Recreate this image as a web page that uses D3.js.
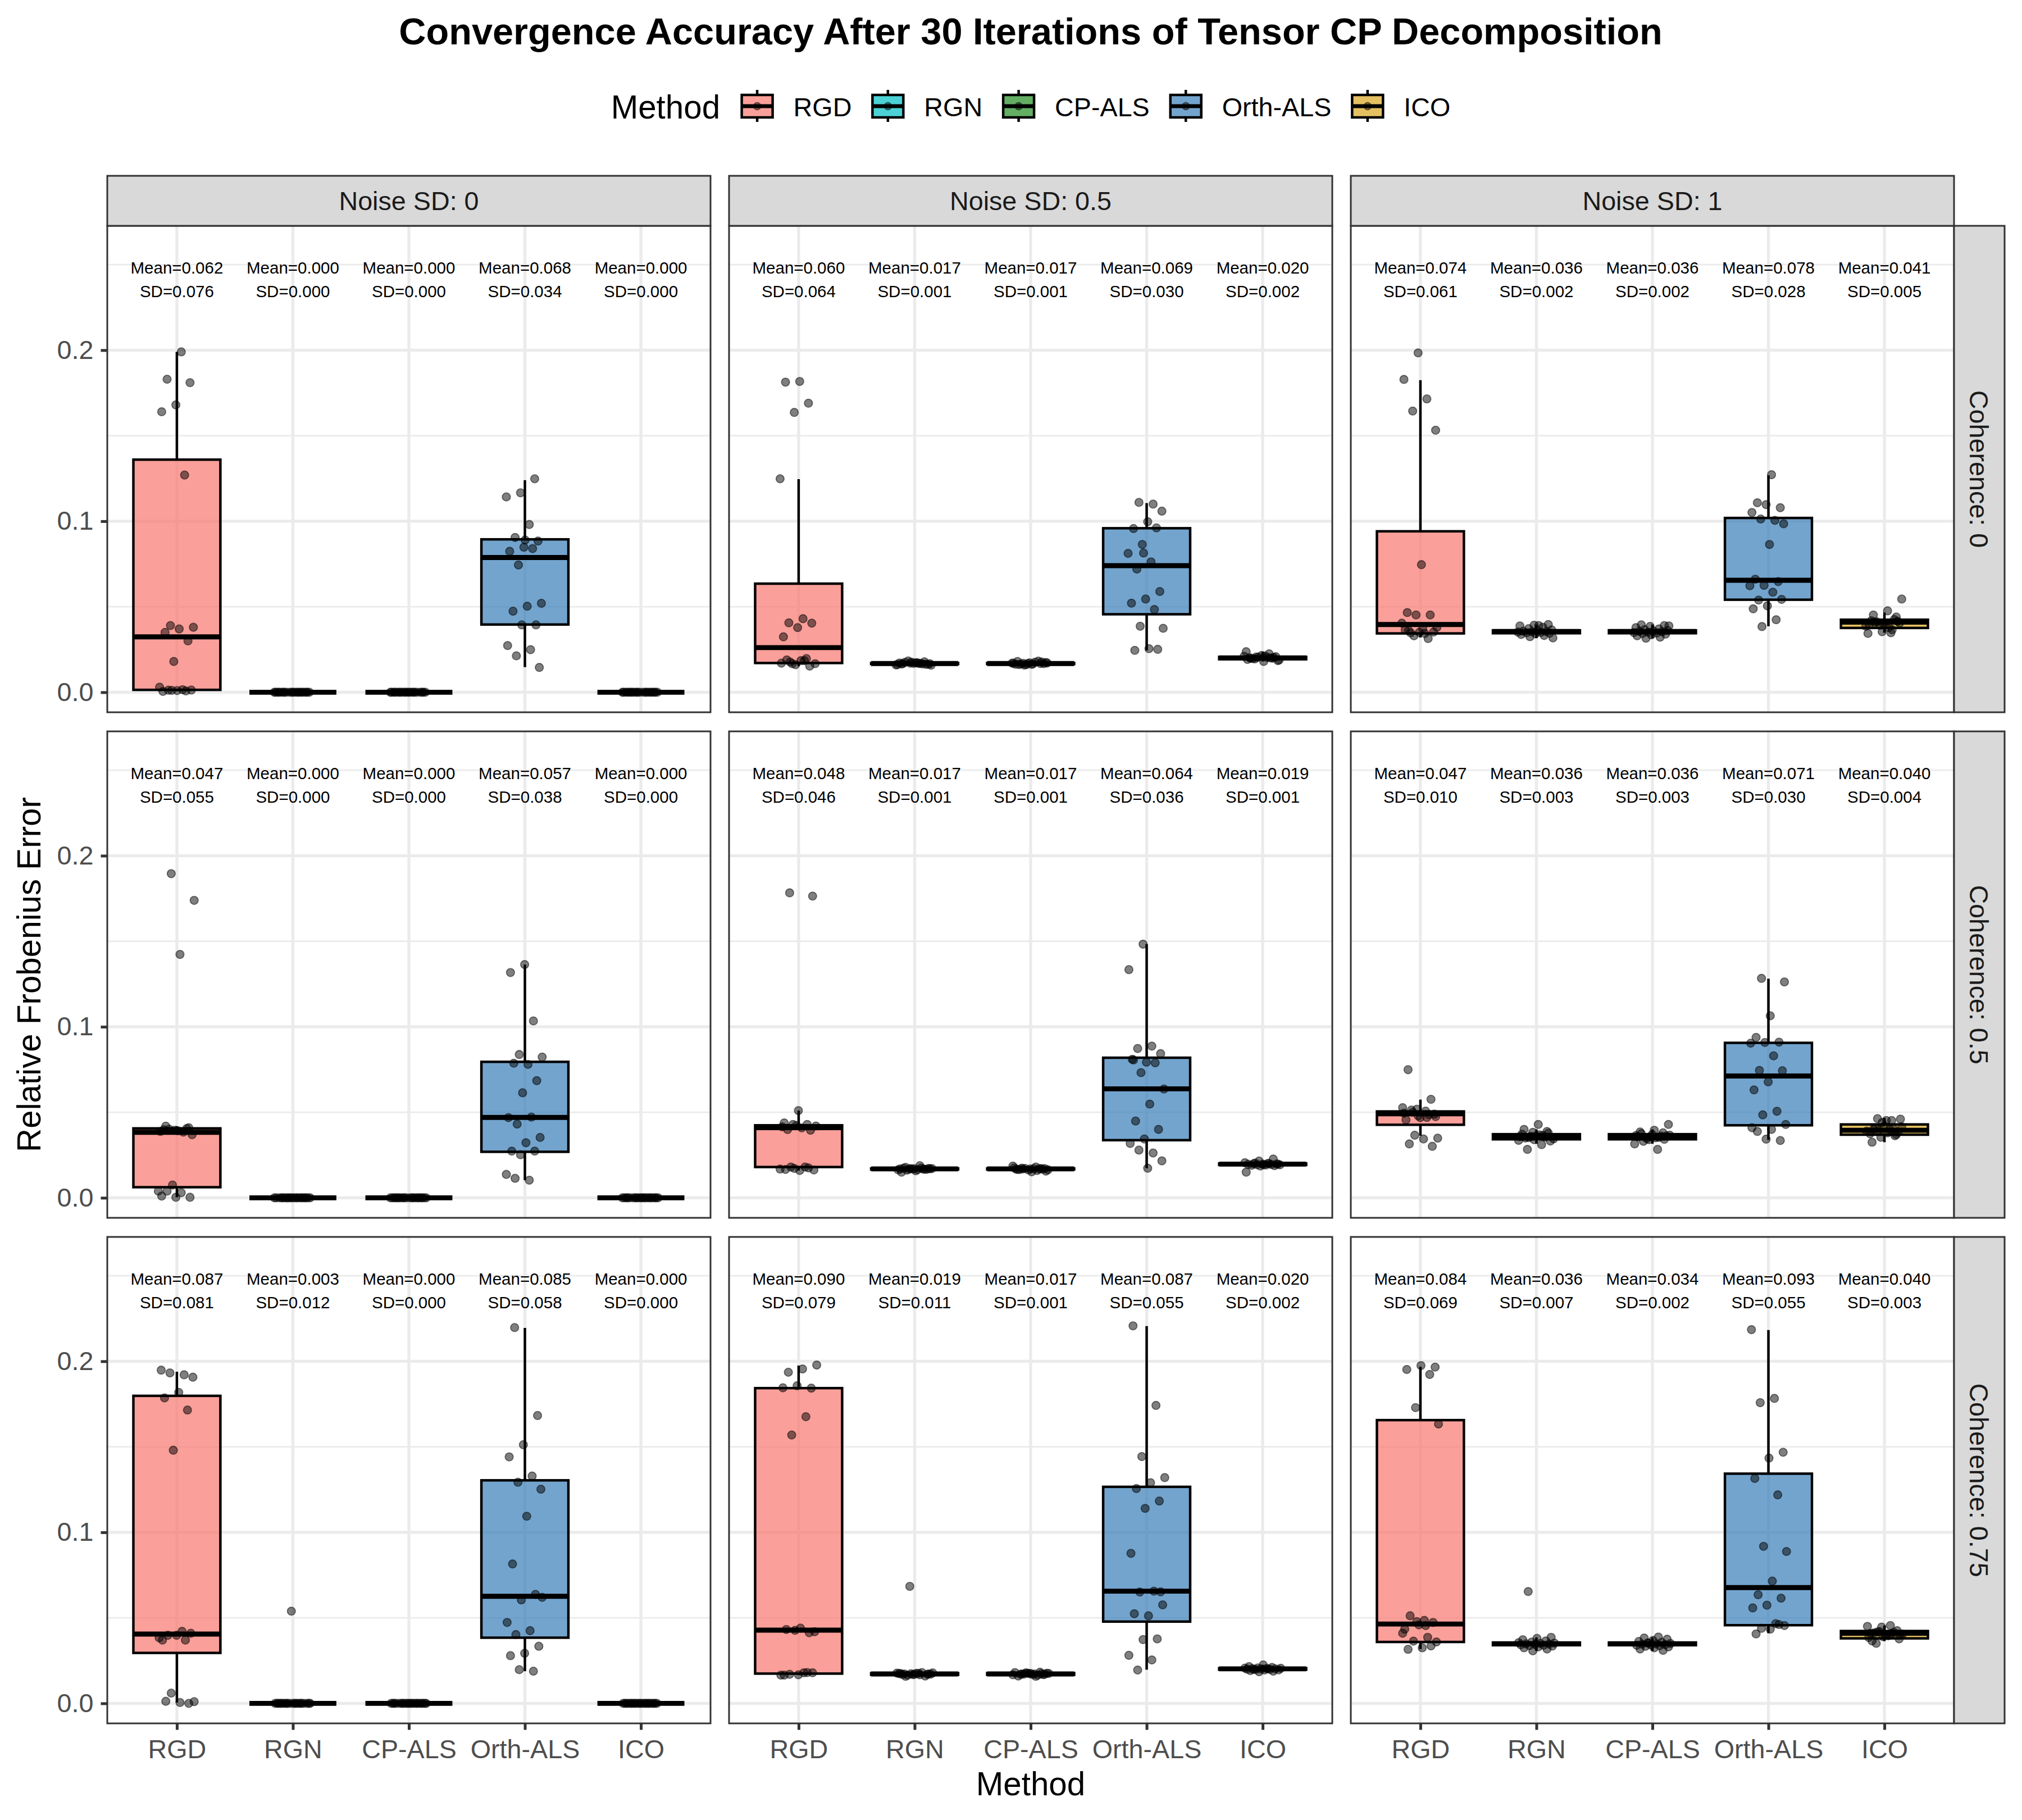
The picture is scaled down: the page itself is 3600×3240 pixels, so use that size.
<!DOCTYPE html>
<html lang="en">
<head>
<meta charset="UTF-8">
<title>Convergence Accuracy After 30 Iterations of Tensor CP Decomposition</title>
<script src="https://cdn.jsdelivr.net/npm/d3@7"></script>
<style>
  body { margin: 0; background: #ffffff; }
  svg { display: block; font-family: 'Liberation Sans', Arial, Helvetica, sans-serif; }
</style>
</head>
<body>
<script>
// ========================================================================
// Data
// ========================================================================
const methods = ["RGD", "RGN", "CP-ALS", "Orth-ALS", "ICO"];
const noiseLabels = ["Noise SD: 0", "Noise SD: 0.5", "Noise SD: 1"];
const coherenceLabels = ["Coherence: 0", "Coherence: 0.5", "Coherence: 0.75"];
const methodColors = ["#F8766D", "#00BFC4", "#228B22", "#377EB8", "#DAA520"];
const yTicks = [0, 0.1, 0.2];
const yMinorTicks = [0.05, 0.15, 0.25];

// mean / sd labels, one row per panel: [coherence][noise] -> 5 methods
const means = [
    [[0.062, 0.000, 0.000, 0.068, 0.000], [0.060, 0.017, 0.017, 0.069, 0.020], [0.074, 0.036, 0.036, 0.078, 0.041]],
    [[0.047, 0.000, 0.000, 0.057, 0.000], [0.048, 0.017, 0.017, 0.064, 0.019], [0.047, 0.036, 0.036, 0.071, 0.040]],
    [[0.087, 0.003, 0.000, 0.085, 0.000], [0.090, 0.019, 0.017, 0.087, 0.020], [0.084, 0.036, 0.034, 0.093, 0.040]]
];
const sds = [
    [[0.076, 0.000, 0.000, 0.034, 0.000], [0.064, 0.001, 0.001, 0.030, 0.002], [0.061, 0.002, 0.002, 0.028, 0.005]],
    [[0.055, 0.000, 0.000, 0.038, 0.000], [0.046, 0.001, 0.001, 0.036, 0.001], [0.010, 0.003, 0.003, 0.030, 0.004]],
    [[0.081, 0.012, 0.000, 0.058, 0.000], [0.079, 0.011, 0.001, 0.055, 0.002], [0.069, 0.007, 0.002, 0.055, 0.003]]
];

// box stats per method: [lower whisker, q1, median, q3, upper whisker]
const boxC0N0 = [[0.0005, 0.0014, 0.0324, 0.136, 0.199], [0, 0, 0, 0, 0], [0, 0, 0, 0, 0], [0.0147, 0.0396, 0.0788, 0.0894, 0.124], [0, 0, 0, 0, 0]];
const boxC0N05 = [[0.0153, 0.0171, 0.0261, 0.0635, 0.1246], [0.0158, 0.0165, 0.0168, 0.0171, 0.018], [0.0158, 0.0165, 0.0168, 0.0171, 0.018], [0.0245, 0.0456, 0.074, 0.0959, 0.1106], [0.018, 0.0193, 0.0201, 0.0207, 0.0237]];
const boxC0N1 = [[0.032, 0.0344, 0.0396, 0.0941, 0.1825], [0.0316, 0.0345, 0.0355, 0.0362, 0.0396], [0.0316, 0.0345, 0.0355, 0.0362, 0.0396], [0.0386, 0.0541, 0.0655, 0.1019, 0.1268], [0.0348, 0.0376, 0.041, 0.0424, 0.0466]];
const boxC05N0 = [[0.0003, 0.0062, 0.0383, 0.0406, 0.0419], [0, 0, 0, 0, 0], [0, 0, 0, 0, 0], [0.0103, 0.0269, 0.047, 0.0795, 0.1363], [0, 0, 0, 0, 0]];
const boxC05N05 = [[0.016, 0.018, 0.041, 0.0424, 0.051], [0.0155, 0.0166, 0.0169, 0.0172, 0.0185], [0.0155, 0.0166, 0.0169, 0.0172, 0.0185], [0.0173, 0.0337, 0.0637, 0.0819, 0.1483], [0.0175, 0.0192, 0.0197, 0.0201, 0.0215]];
const boxC05N1 = [[0.0363, 0.0427, 0.0491, 0.0505, 0.0574], [0.0316, 0.0342, 0.0357, 0.0372, 0.040], [0.0316, 0.0342, 0.0357, 0.0372, 0.040], [0.0339, 0.0424, 0.0712, 0.0906, 0.1281], [0.0325, 0.0369, 0.0395, 0.0429, 0.0467]];
const boxC075N0 = [[0.0005, 0.0295, 0.0405, 0.1798, 0.1939], [0, 0, 0, 0, 0], [0, 0, 0, 0, 0], [0.0188, 0.0384, 0.0626, 0.1304, 0.2195], [0, 0, 0, 0, 0]];
const boxC075N05 = [[0.0165, 0.0174, 0.0428, 0.1843, 0.1975], [0.0155, 0.0167, 0.0172, 0.0177, 0.0188], [0.0155, 0.0167, 0.0172, 0.0177, 0.0188], [0.0197, 0.0478, 0.0656, 0.1266, 0.2206], [0.0185, 0.0197, 0.0202, 0.0206, 0.0225]];
const boxC075N1 = [[0.0318, 0.0359, 0.0464, 0.1656, 0.1968], [0.0307, 0.034, 0.0348, 0.0356, 0.0386], [0.0307, 0.034, 0.0348, 0.0356, 0.0386], [0.041, 0.0457, 0.0677, 0.1343, 0.2183], [0.0364, 0.038, 0.041, 0.0423, 0.0455]];

// individual runs (20 per method)
const zeroRuns = [0, 0, 0, 0, 0, 0, 0, 0, 0, 0, 0, 0, 0, 0, 0, 0, 0, 0, 0, 0];

const ptsC0N0 = [
    [0.199, 0.183, 0.181, 0.168, 0.164, 0.127, 0.039, 0.038, 0.037, 0.035, 0.030, 0.018, 0.003, 0.0015, 0.0012, 0.0013, 0.001, 0.0005, 0.0008, 0.0011],
    zeroRuns, zeroRuns,
    [0.1248, 0.1166, 0.1142, 0.0981, 0.0905, 0.0884, 0.0848, 0.0824, 0.084, 0.0744, 0.052, 0.0503, 0.0474, 0.0394, 0.0394, 0.0273, 0.0249, 0.0213, 0.0145, 0.089],
    zeroRuns
];
const ptsC0N05 = [
    [0.1817, 0.1813, 0.169, 0.1636, 0.1248, 0.043, 0.0406, 0.0404, 0.0378, 0.0324, 0.0197, 0.0167, 0.0167, 0.0185, 0.0189, 0.0153, 0.0161, 0.017, 0.0185, 0.0177],
    [0.0167, 0.0172, 0.0165, 0.0178, 0.0170, 0.0160, 0.0168, 0.0175, 0.0163, 0.0169, 0.0171, 0.0166, 0.0183, 0.0158, 0.0173, 0.0167, 0.0164, 0.0176, 0.0162, 0.0169],
    [0.0169, 0.0174, 0.0163, 0.0180, 0.0168, 0.0161, 0.0170, 0.0176, 0.0165, 0.0167, 0.0172, 0.0164, 0.0182, 0.0159, 0.0171, 0.0166, 0.0162, 0.0177, 0.0168, 0.0170],
    [0.110, 0.111, 0.1059, 0.0997, 0.0957, 0.0961, 0.0864, 0.0812, 0.0762, 0.072, 0.0589, 0.0545, 0.0521, 0.0484, 0.0386, 0.0374, 0.0255, 0.0245, 0.0251, 0.0814],
    [0.0237, 0.0225, 0.0195, 0.0185, 0.018, 0.0202, 0.0199, 0.0205, 0.021, 0.0203, 0.0197, 0.0208, 0.0215, 0.0192, 0.0201, 0.0206, 0.0189, 0.0212, 0.0198, 0.0204]
];
const ptsC0N1 = [
    [0.1984, 0.1829, 0.1715, 0.1644, 0.1532, 0.0746, 0.0466, 0.0452, 0.0452, 0.0404, 0.0344, 0.0348, 0.0352, 0.035, 0.0364, 0.0314, 0.033, 0.038, 0.0372, 0.036],
    [0.0396, 0.0392, 0.0388, 0.0380, 0.0372, 0.0365, 0.0360, 0.0357, 0.0355, 0.0354, 0.0352, 0.0350, 0.0348, 0.0345, 0.0342, 0.0338, 0.0332, 0.0325, 0.0318, 0.0390],
    [0.0394, 0.0390, 0.0385, 0.0378, 0.0370, 0.0366, 0.0361, 0.0358, 0.0356, 0.0354, 0.0351, 0.0349, 0.0347, 0.0344, 0.0340, 0.0336, 0.0330, 0.0322, 0.0316, 0.0388],
    [0.1272, 0.1108, 0.1079, 0.1097, 0.1051, 0.1005, 0.1013, 0.0985, 0.0864, 0.0661, 0.0647, 0.0625, 0.0623, 0.0585, 0.0539, 0.0543, 0.0505, 0.0488, 0.0424, 0.0384],
    [0.0545, 0.0476, 0.0452, 0.044, 0.0354, 0.0344, 0.0348, 0.0412, 0.0405, 0.0398, 0.0418, 0.0425, 0.0392, 0.0386, 0.0378, 0.0409, 0.0415, 0.0402, 0.0395, 0.0366]
];
const ptsC05N0 = [
    [0.1895, 0.1739, 0.1423, 0.0419, 0.041, 0.0395, 0.0388, 0.0384, 0.0401, 0.0369, 0.0392, 0.0398, 0.0405, 0.0075, 0.0039, 0.003, 0.0039, 0.0003, 0.0003, 0.001],
    zeroRuns, zeroRuns,
    [0.1364, 0.1317, 0.1034, 0.0838, 0.0823, 0.078, 0.0787, 0.0685, 0.0614, 0.0469, 0.0472, 0.0431, 0.0353, 0.0322, 0.0273, 0.0273, 0.0252, 0.0137, 0.0103, 0.0114],
    zeroRuns
];
const ptsC05N05 = [
    [0.1783, 0.1764, 0.051, 0.0438, 0.0429, 0.0429, 0.042, 0.0409, 0.0399, 0.0395, 0.0423, 0.0415, 0.018, 0.018, 0.0163, 0.016, 0.0166, 0.0175, 0.0172, 0.0168],
    [0.0188, 0.0178, 0.0172, 0.0170, 0.0169, 0.0168, 0.0167, 0.0171, 0.0165, 0.0173, 0.0166, 0.0169, 0.0164, 0.0174, 0.0162, 0.0170, 0.0158, 0.0150, 0.0167, 0.0171],
    [0.0186, 0.0180, 0.0173, 0.0171, 0.0169, 0.0167, 0.0168, 0.0172, 0.0164, 0.0170, 0.0165, 0.0168, 0.0163, 0.0175, 0.0160, 0.0169, 0.0156, 0.0152, 0.0166, 0.0172],
    [0.1483, 0.1334, 0.0887, 0.0873, 0.0843, 0.0793, 0.081, 0.0789, 0.0732, 0.0636, 0.0548, 0.0449, 0.04, 0.0344, 0.0318, 0.0262, 0.0279, 0.0216, 0.0173, 0.0806],
    [0.0227, 0.0215, 0.0205, 0.0201, 0.0199, 0.0198, 0.0197, 0.0196, 0.0195, 0.0194, 0.0193, 0.0192, 0.0190, 0.0188, 0.0186, 0.0150, 0.0200, 0.0203, 0.0197, 0.0194]
];
const ptsC05N1 = [
    [0.0749, 0.0576, 0.0518, 0.0527, 0.0507, 0.0513, 0.0489, 0.0469, 0.0456, 0.0486, 0.0366, 0.0349, 0.0344, 0.0315, 0.0301, 0.048, 0.0495, 0.047, 0.050, 0.0475],
    [0.0429, 0.040, 0.0388, 0.0383, 0.0336, 0.0311, 0.0283, 0.0332, 0.0363, 0.0372, 0.0355, 0.0360, 0.0345, 0.0368, 0.0350, 0.0378, 0.0340, 0.0358, 0.0365, 0.0352],
    [0.0429, 0.0395, 0.0385, 0.0380, 0.0340, 0.0315, 0.0283, 0.0330, 0.0362, 0.0370, 0.0356, 0.0361, 0.0346, 0.0366, 0.0351, 0.0375, 0.0342, 0.0357, 0.0364, 0.0353],
    [0.1283, 0.1262, 0.1064, 0.0938, 0.091, 0.0908, 0.0904, 0.083, 0.0745, 0.0743, 0.0678, 0.0631, 0.0506, 0.0485, 0.0429, 0.04, 0.0388, 0.0335, 0.0343, 0.041],
    [0.0452, 0.0463, 0.0460, 0.0452, 0.0325, 0.0363, 0.0354, 0.0390, 0.0400, 0.0410, 0.0385, 0.0420, 0.0375, 0.0405, 0.0395, 0.0415, 0.0380, 0.0400, 0.0370, 0.0440]
];
const ptsC075N0 = [
    [0.1948, 0.1921, 0.1932, 0.1907, 0.1818, 0.1786, 0.1715, 0.148, 0.0384, 0.0421, 0.0398, 0.041, 0.0398, 0.037, 0.037, 0.006, 0.001, 0.0005, 0.0012, 0.0],
    [0.0539, 0, 0, 0, 0, 0, 0, 0, 0, 0, 0, 0, 0, 0, 0, 0, 0, 0, 0, 0],
    zeroRuns,
    [0.2197, 0.1683, 0.1512, 0.1441, 0.1329, 0.1293, 0.1252, 0.1094, 0.0815, 0.0637, 0.0605, 0.0473, 0.0425, 0.0402, 0.0334, 0.0293, 0.0279, 0.0188, 0.0197, 0.062],
    zeroRuns
];
const ptsC075N05 = [
    [0.1978, 0.1955, 0.1936, 0.1843, 0.1857, 0.1845, 0.1676, 0.1569, 0.0419, 0.044, 0.0432, 0.0413, 0.0427, 0.0165, 0.0179, 0.017, 0.0179, 0.0167, 0.0165, 0.018],
    [0.0684, 0.0178, 0.0175, 0.0172, 0.0170, 0.0168, 0.0174, 0.0180, 0.0165, 0.0171, 0.0176, 0.0169, 0.0160, 0.0173, 0.0177, 0.0167, 0.0158, 0.0172, 0.0170, 0.0175],
    [0.0182, 0.0178, 0.0175, 0.0172, 0.0170, 0.0168, 0.0174, 0.0180, 0.0165, 0.0171, 0.0176, 0.0169, 0.0160, 0.0173, 0.0177, 0.0167, 0.0158, 0.0172, 0.0170, 0.0175],
    [0.2207, 0.1742, 0.1443, 0.132, 0.129, 0.1256, 0.1183, 0.114, 0.0877, 0.0656, 0.0651, 0.0576, 0.0512, 0.0524, 0.0377, 0.0373, 0.0281, 0.0254, 0.0195, 0.0652],
    [0.0225, 0.0215, 0.0210, 0.0207, 0.0205, 0.0204, 0.0203, 0.0202, 0.0201, 0.0200, 0.0199, 0.0198, 0.0196, 0.0195, 0.0192, 0.0188, 0.0185, 0.0206, 0.0202, 0.0199]
];
const ptsC075N1 = [
    [0.1966, 0.1975, 0.1952, 0.1923, 0.1729, 0.1633, 0.0485, 0.0512, 0.0473, 0.0459, 0.0434, 0.0386, 0.0364, 0.0359, 0.0325, 0.0316, 0.0336, 0.0478, 0.041, 0.0455],
    [0.0654, 0.0386, 0.0380, 0.0372, 0.0365, 0.0358, 0.0352, 0.0350, 0.0348, 0.0347, 0.0345, 0.0343, 0.0340, 0.0338, 0.0335, 0.0330, 0.0325, 0.0318, 0.0307, 0.0355],
    [0.0388, 0.0382, 0.0375, 0.0368, 0.0362, 0.0357, 0.0353, 0.0350, 0.0348, 0.0346, 0.0344, 0.0342, 0.0340, 0.0337, 0.0334, 0.0330, 0.0325, 0.0318, 0.0310, 0.0352],
    [0.2185, 0.1783, 0.1758, 0.1468, 0.1434, 0.1315, 0.1219, 0.0918, 0.0888, 0.0715, 0.0635, 0.0615, 0.0574, 0.0558, 0.0466, 0.0439, 0.0455, 0.0434, 0.0406, 0.0461],
    [0.0446, 0.0450, 0.0455, 0.0351, 0.0377, 0.0400, 0.0410, 0.0415, 0.0420, 0.0405, 0.0395, 0.0412, 0.0425, 0.0390, 0.0385, 0.0408, 0.0418, 0.0402, 0.0398, 0.0365]
];

const boxGrid = [[boxC0N0, boxC0N05, boxC0N1], [boxC05N0, boxC05N05, boxC05N1], [boxC075N0, boxC075N05, boxC075N1]];
const pointGrid = [[ptsC0N0, ptsC0N05, ptsC0N1], [ptsC05N0, ptsC05N05, ptsC05N1], [ptsC075N0, ptsC075N05, ptsC075N1]];

// ========================================================================
// Layout
// ========================================================================
const WIDTH = 3600, HEIGHT = 3240;
const PANEL_LEFT = [191, 1298, 2405];
const PANEL_TOP = [402, 1302, 2202];
const PANEL_W = 1074, PANEL_H = 866;
const STRIP_H = 89, STRIP_W = 90;
const Y_DOMAIN = [-0.0117, 0.2727];
const LABEL_Y = 0.2412;
const TICK_LEN = 11.5;
const JITTER = 0.16;
const PLOT_CENTER = (PANEL_LEFT[0] + PANEL_LEFT[2] + PANEL_W) / 2;

const FONT_AXIS = 46.7, FONT_TITLE_AXIS = 58.3, FONT_ANNOT = 29.5;
const GRID = "#EBEBEB", DARK = "#333333";

const x = d3.scalePoint().domain(methods).range([0, PANEL_W]).padding(0.6);
const y = d3.scaleLinear().domain(Y_DOMAIN).range([PANEL_H, 0]);
const boxW = 0.75 * x.step();

// spread points sideways like geom_jitter, without randomness
const jitterOffset = (i, seed) => ((((i + 1) * 0.6180339887 + seed * 0.3819660113) % 1) - 0.5) * 2 * JITTER * x.step();

const svg = d3.select("body").append("svg")
    .attr("width", WIDTH).attr("height", HEIGHT)
    .attr("viewBox", `0 0 ${WIDTH} ${HEIGHT}`);
svg.append("rect").attr("width", WIDTH).attr("height", HEIGHT).attr("fill", "#ffffff");

// ========================================================================
// Title
// ========================================================================
svg.append("text")
    .attr("x", PLOT_CENTER).attr("y", 79)
    .attr("text-anchor", "middle")
    .attr("font-size", 66.7).attr("font-weight", "bold")
    .attr("fill", "#000")
    .text("Convergence Accuracy After 30 Iterations of Tensor CP Decomposition");

// ========================================================================
// Legend
// ========================================================================
const drawLegend = () => {
    const legend = svg.append("g");
    const cy = 190;
    const title = legend.append("text")
        .attr("x", 0).attr("y", cy + 0.716 * FONT_TITLE_AXIS / 2)
        .attr("font-size", FONT_TITLE_AXIS).attr("fill", "#000")
        .text("Method");
    let cursor = title.node().getComputedTextLength() + 30;
    methods.forEach((m, i) => {
        const kx = cursor + 36;
        const key = legend.append("g");
        key.append("line").attr("x1", kx).attr("x2", kx).attr("y1", 160).attr("y2", 217)
            .attr("stroke", "#000").attr("stroke-width", 4.45);
        key.append("rect").attr("x", kx - 27.5).attr("y", 169).attr("width", 55).attr("height", 40)
            .attr("fill", "#fff");
        key.append("rect").attr("x", kx - 27.5).attr("y", 169).attr("width", 55).attr("height", 40)
            .attr("fill", methodColors[i]).attr("fill-opacity", 0.7)
            .attr("stroke", "#000").attr("stroke-width", 4.45);
        key.append("line").attr("x1", kx - 27.5).attr("x2", kx + 27.5).attr("y1", cy - 1).attr("y2", cy - 1)
            .attr("stroke", "#000").attr("stroke-width", 7);
        key.append("circle").attr("cx", kx).attr("cy", cy - 1).attr("r", 6.5)
            .attr("fill", "#000").attr("fill-opacity", 0.45)
            .attr("stroke", "#000").attr("stroke-opacity", 0.45).attr("stroke-width", 1.8);
        const label = legend.append("text")
            .attr("x", cursor + 72 + 28.5).attr("y", cy + 0.716 * FONT_AXIS / 2)
            .attr("font-size", FONT_AXIS).attr("fill", "#000")
            .text(m);
        cursor += 72 + 28.5 + label.node().getComputedTextLength() + 28.5;
    });
    const total = cursor - 28.5;
    legend.attr("transform", `translate(${PLOT_CENTER - total / 2},0)`);
};
drawLegend();

// ========================================================================
// Panels
// ========================================================================
const drawPanel = (r, c) => {
    const g = svg.append("g").attr("transform", `translate(${PANEL_LEFT[c]},${PANEL_TOP[r]})`);
    const boxes = boxGrid[r][c];
    const pts = pointGrid[r][c];

    g.append("rect").attr("width", PANEL_W).attr("height", PANEL_H).attr("fill", "#fff");

    // grid
    g.selectAll(".minor").data(yMinorTicks).join("line")
        .attr("x1", 0).attr("x2", PANEL_W)
        .attr("y1", d => y(d)).attr("y2", d => y(d))
        .attr("stroke", GRID).attr("stroke-width", 2.8);
    g.selectAll(".majorY").data(yTicks).join("line")
        .attr("x1", 0).attr("x2", PANEL_W)
        .attr("y1", d => y(d)).attr("y2", d => y(d))
        .attr("stroke", GRID).attr("stroke-width", 5.3);
    g.selectAll(".majorX").data(methods).join("line")
        .attr("x1", d => x(d)).attr("x2", d => x(d))
        .attr("y1", 0).attr("y2", PANEL_H)
        .attr("stroke", GRID).attr("stroke-width", 5.3);

    // boxplots
    methods.forEach((m, i) => {
        const [lo, q1, med, q3, hi] = boxes[i];
        const cx = x(m);
        g.append("line").attr("x1", cx).attr("x2", cx).attr("y1", y(q3)).attr("y2", y(hi))
            .attr("stroke", "#000").attr("stroke-width", 4.45);
        g.append("line").attr("x1", cx).attr("x2", cx).attr("y1", y(q1)).attr("y2", y(lo))
            .attr("stroke", "#000").attr("stroke-width", 4.45);
        g.append("rect")
            .attr("x", cx - boxW / 2).attr("y", y(q3))
            .attr("width", boxW).attr("height", Math.max(0, y(q1) - y(q3)))
            .attr("fill", methodColors[i]).attr("fill-opacity", 0.7)
            .attr("stroke", "#000").attr("stroke-width", 4.45);
        g.append("line").attr("x1", cx - boxW / 2).attr("x2", cx + boxW / 2).attr("y1", y(med)).attr("y2", y(med))
            .attr("stroke", "#000").attr("stroke-width", 8.9);
    });

    // jittered runs
    methods.forEach((m, i) => {
        const seed = r * 15 + c * 5 + i;
        g.append("g").selectAll("circle").data(pts[i]).join("circle")
            .attr("cx", (d, k) => x(m) + jitterOffset(k, seed))
            .attr("cy", d => y(d))
            .attr("r", 7.2)
            .attr("fill", "#000").attr("fill-opacity", 0.5)
            .attr("stroke", "#000").attr("stroke-opacity", 0.5).attr("stroke-width", 1.8);
    });

    // mean / sd annotations
    methods.forEach((m, i) => {
        const t = g.append("text")
            .attr("text-anchor", "middle")
            .attr("font-size", FONT_ANNOT).attr("fill", "#000");
        t.append("tspan").attr("x", x(m)).attr("y", y(LABEL_Y) - 21 + 10.5)
            .text(`Mean=${means[r][c][i].toFixed(3)}`);
        t.append("tspan").attr("x", x(m)).attr("y", y(LABEL_Y) + 21 + 10.5)
            .text(`SD=${sds[r][c][i].toFixed(3)}`);
    });

    g.append("rect").attr("width", PANEL_W).attr("height", PANEL_H)
        .attr("fill", "none").attr("stroke", DARK).attr("stroke-width", 3);

    // axes
    const styleAxis = (a) => {
        a.select(".domain").remove();
        a.selectAll(".tick line").attr("stroke", DARK).attr("stroke-width", 5);
        a.selectAll(".tick text").attr("fill", "#4D4D4D").attr("font-size", FONT_AXIS)
            .attr("font-family", "'Liberation Sans', Arial, Helvetica, sans-serif");
    };
    if (c === 0) {
        g.append("g")
            .call(d3.axisLeft(y).tickValues(yTicks).tickSize(TICK_LEN).tickPadding(13).tickFormat(d3.format(".1f")))
            .call(styleAxis);
    }
    if (r === 2) {
        g.append("g").attr("transform", `translate(0,${PANEL_H})`)
            .call(d3.axisBottom(x).tickSize(TICK_LEN).tickPadding(17))
            .call(styleAxis);
    }
};

for (let r = 0; r < 3; r++) {
    for (let c = 0; c < 3; c++) drawPanel(r, c);
}

// ========================================================================
// Strips
// ========================================================================
noiseLabels.forEach((lab, c) => {
    svg.append("rect")
        .attr("x", PANEL_LEFT[c]).attr("y", PANEL_TOP[0] - STRIP_H)
        .attr("width", PANEL_W).attr("height", STRIP_H)
        .attr("fill", "#D9D9D9").attr("stroke", DARK).attr("stroke-width", 3);
    svg.append("text")
        .attr("x", PANEL_LEFT[c] + PANEL_W / 2).attr("y", PANEL_TOP[0] - STRIP_H / 2 + 0.716 * FONT_AXIS / 2)
        .attr("text-anchor", "middle")
        .attr("font-size", FONT_AXIS).attr("fill", "#1A1A1A")
        .text(lab);
});
coherenceLabels.forEach((lab, r) => {
    const sx = PANEL_LEFT[2] + PANEL_W;
    svg.append("rect")
        .attr("x", sx).attr("y", PANEL_TOP[r])
        .attr("width", STRIP_W).attr("height", PANEL_H)
        .attr("fill", "#D9D9D9").attr("stroke", DARK).attr("stroke-width", 3);
    svg.append("text")
        .attr("transform", `translate(${sx + STRIP_W / 2 - 0.716 * FONT_AXIS / 2},${PANEL_TOP[r] + PANEL_H / 2}) rotate(90)`)
        .attr("text-anchor", "middle")
        .attr("font-size", FONT_AXIS).attr("fill", "#1A1A1A")
        .text(lab);
});

// ========================================================================
// Axis titles
// ========================================================================
svg.append("text")
    .attr("x", PLOT_CENTER).attr("y", 3196)
    .attr("text-anchor", "middle")
    .attr("font-size", FONT_TITLE_AXIS).attr("fill", "#000")
    .text("Method");
svg.append("text")
    .attr("transform", `translate(72,${(PANEL_TOP[0] + PANEL_TOP[2] + PANEL_H) / 2}) rotate(-90)`)
    .attr("text-anchor", "middle")
    .attr("font-size", FONT_TITLE_AXIS).attr("fill", "#000")
    .text("Relative Frobenius Error");
</script>
</body>
</html>
